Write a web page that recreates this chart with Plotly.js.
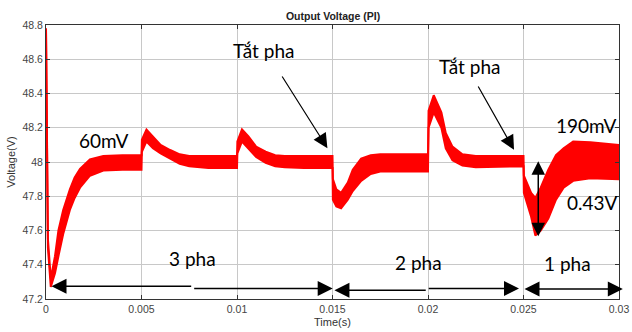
<!DOCTYPE html>
<html><head><meta charset="utf-8">
<script src="https://cdn.plot.ly/plotly-3.0.1.min.js"></script>
<style>html,body{margin:0;padding:0;background:#fff;}#chart{width:632px;height:332px;}</style>
</head><body><div id="chart"></div>
<script>
// Time axis (s)
const timeS = [0, 0.0001, 0.00025, 0.00047, 0.00065, 0.0009, 0.00125, 0.0015, 0.00178, 0.0023,
  0.003, 0.004, 0.005, 0.00502, 0.00526, 0.0056, 0.006, 0.0065, 0.007, 0.0075,
  0.0085, 0.01, 0.01002, 0.01026, 0.0106, 0.011, 0.0115, 0.012, 0.0125, 0.0135,
  0.015, 0.01502, 0.0152, 0.01545, 0.0158, 0.01606, 0.0165, 0.017, 0.0175, 0.0185,
  0.02, 0.02003, 0.0203, 0.0207, 0.02093, 0.02128, 0.0218, 0.0225, 0.025, 0.02502,
  0.0254, 0.02562, 0.0259, 0.0263, 0.0267, 0.0271, 0.0276, 0.0285, 0.03];
// Upper ripple envelope of output voltage (V)
const upperV = [48.78, 47.55, 47.32, 47.45, 47.6, 47.72, 47.84, 47.91, 47.96, 48.015,
  48.035, 48.04, 48.04, 48.13, 48.19, 48.15, 48.10, 48.07, 48.045, 48.035,
  48.035, 48.035, 48.12, 48.19, 48.15, 48.09, 48.06, 48.04, 48.035, 48.035,
  48.035, 47.9, 47.84, 47.82, 47.88, 47.955, 48.02, 48.04, 48.045, 48.045,
  48.045, 48.3, 48.39, 48.29, 48.17, 48.09, 48.045, 48.035, 48.035, 47.92,
  47.82, 47.79, 47.85, 47.955, 48.04, 48.08, 48.12, 48.115, 48.1];
// Lower ripple envelope of output voltage (V)
const lowerV = [48.78, 47.5, 47.27, 47.35, 47.45, 47.58, 47.72, 47.79, 47.85, 47.92,
  47.95, 47.955, 47.955, 48.06, 48.12, 48.08, 48.05, 48.02, 47.99, 47.975,
  47.965, 47.965, 48.05, 48.12, 48.08, 48.03, 47.995, 47.975, 47.97, 47.965,
  47.965, 47.78, 47.74, 47.73, 47.78, 47.83, 47.89, 47.93, 47.945, 47.945,
  47.945, 48.2, 48.29, 48.2, 48.08, 48.01, 47.98, 47.97, 47.975, 47.82,
  47.68, 47.57, 47.6, 47.67, 47.78, 47.85, 47.89, 47.905, 47.9];

const xTickVals = [0, 0.005, 0.01, 0.015, 0.02, 0.025, 0.03];
const xTickText = ["0", "0.005", "0.01", "0.015", "0.02", "0.025", "0.03"];
const yTickVals = [47.2, 47.4, 47.6, 47.8, 48, 48.2, 48.4, 48.6, 48.8];
const yTickText = ["47.2", "47.4", "47.6", "47.8", "48", "48.2", "48.4", "48.6", "48.8"];

const RED = 'rgb(255,0,0)';
const traces = [
  {x: timeS, y: lowerV, type: 'scatter', mode: 'lines', line: {color: RED, width: 2}, hoverinfo: 'skip'},
  {x: timeS, y: upperV, type: 'scatter', mode: 'lines', line: {color: RED, width: 2}, fill: 'tonexty', fillcolor: RED, hoverinfo: 'skip'}
];

const tickFont = {family: 'Liberation Sans, Arial, sans-serif', size: 10.5, color: '#444'};
const noteFont = {family: 'Lato, "Open Sans", sans-serif', size: 19, color: '#000'};

function label(text, x, y) {
  return {text: text, x: x, y: y, xref: 'x', yref: 'y', showarrow: false, font: noteFont, xanchor: 'center', yanchor: 'middle'};
}
function arrow(x, y, ax, ay, w, s, both) {
  const a = {text: '', x: x, y: y, ax: ax, ay: ay, xref: 'x', yref: 'y', axref: 'x', ayref: 'y',
    showarrow: true, arrowhead: 2, arrowsize: s, arrowwidth: w, arrowcolor: '#000', standoff: 0, startstandoff: 0};
  if (both) { a.arrowside = 'end+start'; a.startarrowhead = 2; a.startarrowsize = s; }
  return a;
}

const annotations = [
  label('60mV', 0.00299, 48.124),
  label('Tắt pha', 0.01139, 48.651),
  label('Tắt pha', 0.02215, 48.557),
  label('190mV', 0.02828, 48.213),
  label('0.43V', 0.02863, 47.764),
  label('3 pha', 0.007645, 47.434),
  label('2 pha', 0.0195, 47.415),
  label('1 pha', 0.027315, 47.409),
  arrow(0.014734, 48.081, 0.012315, 48.508, 1.2, 2.4, false),
  arrow(0.024504, 48.071, 0.022586, 48.45, 1.2, 2.4, false),
  arrow(0.000287, 47.274, 0.00768, 47.274, 1.5, 2, false),
  arrow(0.01501, 47.261, 0.00768, 47.261, 1.5, 2, false),
  arrow(0.0151, 47.251, 0.01996, 47.251, 1.5, 2, false),
  arrow(0.024765, 47.262, 0.01996, 47.262, 1.5, 2, false),
  arrow(0.0302, 47.258, 0.024974, 47.258, 1.5, 2, true),
  arrow(0.025773, 47.566, 0.025773, 48.013, 1.5, 1.8, true)
];

const axisCommon = {
  showgrid: true, gridcolor: '#c8c8c8', gridwidth: 1, zeroline: false,
  showline: true, linecolor: '#333', linewidth: 1, mirror: 'ticks',
  ticks: 'inside', ticklen: 4, tickcolor: '#333', tickfont: tickFont,
  automargin: false, fixedrange: true
};

const layout = {
  width: 632, height: 332,
  margin: {l: 46, r: 13, t: 25, b: 33, pad: 0},
  paper_bgcolor: '#fff', plot_bgcolor: '#fff', showlegend: false,
  title: {text: '<b>Output Voltage (PI)</b>', font: {family: 'Liberation Sans, Arial, sans-serif', size: 10.5, color: '#222'},
    x: 0.527, xanchor: 'center', y: 0.952, yanchor: 'middle', xref: 'container', yref: 'container'},
  xaxis: Object.assign({}, axisCommon, {range: [0, 0.03], tickmode: 'array', tickvals: xTickVals, ticktext: xTickText,
    title: {text: 'Time(s)', font: {family: 'Liberation Sans, Arial, sans-serif', size: 11, color: '#333'}, standoff: 4}}),
  yaxis: Object.assign({}, axisCommon, {range: [47.2, 48.8], tickmode: 'array', tickvals: yTickVals, ticktext: yTickText,
    title: {text: 'Voltage(V)', font: {family: 'Liberation Sans, Arial, sans-serif', size: 11, color: '#333'}, standoff: 4}}),
  annotations: annotations
};

Plotly.newPlot('chart', traces, layout, {displayModeBar: false, staticPlot: true});
</script></body></html>
